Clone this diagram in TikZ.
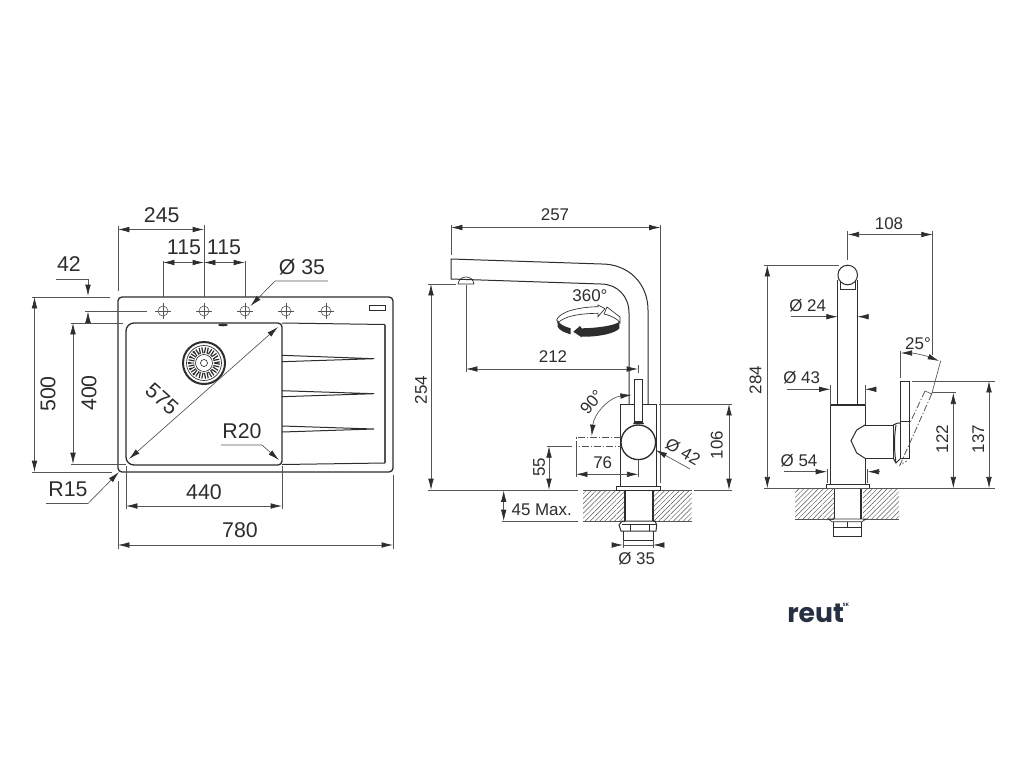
\documentclass[tikz,border=0pt]{standalone}
\usepackage{fontspec}
\setmainfont{Liberation Sans}
\newfontfamily\logofont{Poppins}[BoldFont={Poppins Bold}]
\usepackage{xcolor}
\usetikzlibrary{arrows.meta,patterns.meta}
\definecolor{inkdark}{RGB}{45,45,45}
\definecolor{dimgray}{RGB}{85,85,85}
\definecolor{logoblue}{RGB}{38,48,66}
\tikzset{
  outline/.style={draw=inkdark,line width=0.75pt},
  thinline/.style={draw=inkdark,line width=0.5pt},
  holeline/.style={draw=dimgray,line width=0.45pt},
  extline/.style={draw=dimgray,line width=0.5pt},
  dimline/.style={draw=dimgray,line width=0.5pt,>={Latex[length=8.5pt,width=4.2pt,color=inkdark]}},
  ghostline/.style={draw=dimgray,line width=0.6pt,dash pattern=on 5pt off 1.5pt on 1pt off 1.5pt},
  dimtext/.style={font=\fontsize{16}{18}\selectfont,text=inkdark,inner sep=0pt},
  smalltext/.style={font=\fontsize{12.7}{15}\selectfont,text=inkdark,inner sep=0pt},
  worktop/.style={pattern={Lines[angle=45,distance=2.6pt,line width=0.35pt]},pattern color=dimgray,draw=none}
}
\begin{document}
\begin{tikzpicture}[x=0.75pt,y=0.75pt,yscale=-1,xscale=1]
\useasboundingbox (0,0) rectangle (1024,768);

%Shape: Sink top
\draw [outline,line width=1pt,rounded corners=3pt] (118,297) rectangle (393,472);
%Shape: Bowl
\draw [outline,line width=1pt,rounded corners=3pt] (126,323) -- (282,323) -- (282,465) [rounded corners=6pt] -- (126,465) -- cycle;
%Shape: Drainboard
\draw [outline] (282,323) -- (385,324.5);
\draw [draw=dimgray,line width=1.2pt] (385,324.5) -- (385,463);
\draw [outline] (385,463) -- (282,464.5);
%Shape: Label plate
\draw [thinline] (369,305) rectangle (385,310);
%Shape: Overflow
\fill [inkdark] (223,325) circle [x radius=5, y radius=1.3];

%Shape: Tap holes
\draw [holeline] (163,311) circle [x radius=5, y radius=5];
\draw [holeline] (155,311) -- (171,311) (163,303) -- (163,319);
\draw [holeline] (204,311) circle [x radius=5, y radius=5];
\draw [holeline] (196,311) -- (212,311) (204,303) -- (204,319);
\draw [holeline] (245,311) circle [x radius=5, y radius=5];
\draw [holeline] (237,311) -- (253,311) (245,303) -- (245,319);
\draw [holeline] (286,311) circle [x radius=5, y radius=5];
\draw [holeline] (278,311) -- (294,311) (286,303) -- (286,319);
\draw [holeline] (326,311) circle [x radius=5, y radius=5];
\draw [holeline] (318,311) -- (334,311) (326,303) -- (326,319);

%Shape: Drain
\draw [draw=inkdark,line width=1.5pt] (204,363) circle [x radius=21, y radius=21];
\draw [thinline] (204,363) circle [x radius=17.5, y radius=17.5];
\draw [draw=inkdark,line width=4.5pt,dash pattern=on 0.9pt off 1.1pt] (204,363) circle [x radius=13, y radius=13];
\draw [thinline] (204,363) circle [x radius=8.5, y radius=8.5];
\draw [thinline] (204,363) circle [x radius=3.5, y radius=3.5];

%Shape: Ribs
\draw [outline] (282,355.3) -- (374,358.7) -- (282,361.7);
\draw [outline] (282,390.7) -- (374,393.7) -- (282,396.7);
\draw [outline] (282,426) -- (374,429) -- (282,432);

%Straight Lines: sink dimensions
\draw [extline] (118,226) -- (118,291);
\draw [extline] (204,225) -- (204,297);
\draw [extline] (163,261) -- (163,297);
\draw [extline] (245,261) -- (245,297);
\draw [dimline,<->] (118,229.5) -- (204,229.5);
\draw [dimline,<->] (163,262.5) -- (204,262.5);
\draw [dimline,<->] (204,262.5) -- (245,262.5);
\draw [extline] (32,297) -- (110,297);
\draw [extline] (85,311) -- (147,311);
\draw [extline] (71,323) -- (123,323);
\draw [extline] (32,472) -- (112,472);
\draw [extline] (71,464.5) -- (126,464.5);
\draw [extline] (126,466) -- (126,509);
\draw [extline] (282,466) -- (282,509);
\draw [extline] (118,481) -- (118,549);
\draw [extline] (393,475) -- (393,549);
\draw [dimline,->] (56,279) -- (88,279) -- (88,296);
\draw [dimline,->] (88,323) -- (88,311.5);
\draw [dimline,<->] (34.5,297) -- (34.5,472);
\draw [dimline,<->] (73,323) -- (73,464);
\draw [dimline,<->] (126,506) -- (282,506);
\draw [dimline,<->] (118,545) -- (393,545);
\draw [dimline,<->] (129,459) -- (278,327);
\draw [dimline,->] (46,503.5) -- (88,503.5) -- (119,472);
\draw [dimline,->] (328,281) -- (275,281) -- (250.5,306);
\draw [dimline,->] (221,445) -- (262,445) -- (279,460);

%Shape: Spout
\draw [outline] (648,404) -- (648,310) .. controls (648,283) and (628,264) .. (601.7,264) -- (451,259) -- (451,279) -- (601,284) .. controls (617,284) and (629,296) .. (629,313) -- (629,404);
%Shape: Aerator
\draw [thinline] (458,284) .. controls (459,279) and (462,277) .. (466,277) .. controls (470,277) and (473,279) .. (474,284) -- cycle;

%Shape: Rotation arrow
\draw [thinline,fill=white] (556.7,320) .. controls (559,312) and (578,307) .. (598,306.7) -- (598,305) -- (605,308.5) -- (598,316.7) -- (598,313.3) .. controls (580,313.5) and (564,316) .. (558,323) -- cycle;
\draw [thinline,fill=white] (607,307) -- (620,317) -- (620,323) .. controls (618,319) and (612,316) .. (604,314) -- cycle;
\fill [inkdark] (619.3,321.7) .. controls (616,325) and (600,328) .. (581.7,328.3) -- (580,326) -- (573.3,331.7) -- (581.7,337.3) -- (581.7,336.7) .. controls (600,337) and (616,333) .. (619.3,328.3) -- cycle;
\fill [inkdark] (557.7,320) -- (557.7,326.7) .. controls (559,330) and (564,332.5) .. (570.7,334.3) -- (570.7,328.3) .. controls (564,326.5) and (559,324) .. (557.7,320) -- cycle;

%Shape: Worktop, side view
\path [worktop] (583,490) rectangle (625,521);
\path [worktop] (653,490) rectangle (691.7,521);
\draw [extline] (583,490) -- (625,490);
\draw [extline] (653,490) -- (691.7,490);
\draw [extline] (583,521) -- (625,521);
\draw [extline] (653,521) -- (691.7,521);

%Shape: Tap body, side view
\draw [outline] (620.7,486.7) -- (620.7,404) -- (656,404) -- (656,486.7);
\draw [thinline] (616.7,486.7) rectangle (660.7,490);
\draw [outline,line width=1pt] (625,490) -- (625,521);
\draw [outline,line width=1pt] (653,490) -- (653,521);
\draw [outline] (622,521) -- (619,525) -- (621,531) -- (656,531) -- (656.7,525) -- (655,521) -- cycle;
\draw [thinline] (630.7,524) -- (630.7,531) (649,524) -- (649,531) (622,524) -- (656,524);
\draw [outline] (623,531) -- (623,540) -- (653,540) -- (653,531);
%Shape: Lever
\draw [outline,fill=white] (634,422) -- (634,379.3) -- (642.7,379.3) -- (642.7,422);
\fill [inkdark] (633,424) -- (635,421) -- (642,421) -- (644,424) -- cycle;
\draw [draw=inkdark,line width=1pt,fill=white] (638.3,442.3) circle [x radius=17.3, y radius=17.3];
%Shape: Lever turned
\draw [ghostline] (621,437.7) -- (576,437.7) -- (576,446.3) -- (621,446.3);

%Straight Lines: side view dimensions
\draw [extline] (451,225) -- (451,255);
\draw [extline] (660.5,225) -- (660.5,483);
\draw [dimline,<->] (451,227.5) -- (660.5,227.5);
\draw [extline] (466,285) -- (466,372);
\draw [extline] (638,365) -- (638,373);
\draw [dimline,<->] (466,369) -- (638,369);
\draw [extline] (428,284) -- (456,284);
\draw [extline] (428,490) -- (578,490);
\draw [dimline,<->] (431,284) -- (431,490);
\draw [extline] (502,521) -- (578,521);
\draw [dimline,<->] (503.7,490.5) -- (503.7,521);
\draw [extline] (546.7,446.3) -- (572,446.3);
\draw [dimline,<->] (549,446.3) -- (549,490);
\draw [extline] (576,442) -- (576,477);
\draw [extline] (638.3,460) -- (638.3,477);
\draw [dimline,<->] (576,474.3) -- (638.3,474.3);
\draw [dimline,<->] (631.7,395) .. controls (610,397) and (594,413) .. (591.7,436);
\draw [dimline,<-] (655.7,450) -- (690,469);
\draw [extline] (659,404) -- (732,404);
\draw [extline] (694,490) -- (732,490);
\draw [dimline,<->] (729,404) -- (729,490);
\draw [extline] (623,540) -- (623,548);
\draw [extline] (653,540) -- (653,548);
\draw [dimline,->] (613,545) -- (623,545);
\draw [dimline,->] (663,545) -- (653,545);
\draw [dimline] (623,545) -- (653,545);

%Shape: Worktop, front view
\path [worktop] (795,488.3) rectangle (834,519);
\path [worktop] (863,488.3) rectangle (899,519);
\draw [extline] (795,519) -- (834,519);
\draw [extline] (863,519) -- (899,519);

%Shape: Tap body, front view
\draw [outline] (837.7,405) -- (837.7,280);
\draw [outline] (857.3,405) -- (857.3,280);
\draw [outline,fill=white] (840.7,280) -- (840.7,289) -- (855,289) -- (855,280);
\draw [outline,fill=white] (847.7,275) circle [x radius=9.8, y radius=9.8];
\draw [outline] (830.3,484.3) -- (830.3,405);
\draw [outline,line width=1pt] (830.3,405) -- (865,405);
\draw [outline] (865,405) -- (865,425) -- (893.3,425) -- (893.3,458.3) -- (865,458.3) -- (865,484.3);
\draw [outline] (865,425) -- (856.7,430) -- (851,440.7) -- (856.7,453) -- (865,458.3);
\draw [thinline] (826,484.3) rectangle (869.3,488.3);
\draw [outline,line width=1pt] (834.5,488.3) -- (834.5,519);
\draw [outline,line width=1pt] (861,488.3) -- (861,519);
\draw [thinline] (828.3,519) -- (866,519) -- (862,521.7) -- (832,521.7) -- cycle;
\draw [outline] (833.3,521.7) -- (833.3,536.7) -- (861.7,536.7) -- (861.7,521.7);
\draw [thinline] (833.3,527.3) -- (861.7,527.3) (847.5,521.7) -- (847.5,527.3);
%Shape: Lever, front view
\draw [outline] (893.3,425) .. controls (896,423) and (898,423) .. (900.7,423);
\draw [outline] (893.3,458.3) -- (896,463) -- (900.7,458.3);
\draw [outline] (900.7,381) rectangle (909,458.3);
\draw [outline] (900.7,421.7) -- (909,421.7);
\draw [outline] (896,425) .. controls (894,437) and (894,450) .. (896,463);
%Shape: Lever turned
\draw [ghostline] (931.7,394) -- (900,465) -- (906.7,461);
\draw [ghostline] (925,391) -- (909,425);
\draw [extline] (940.7,360.7) -- (931.7,394) -- (925,391);

%Straight Lines: front view dimensions
\draw [extline] (847.7,231) -- (847.7,260);
\draw [extline] (932.7,231) -- (932.7,355);
\draw [dimline,<->] (847.7,234.5) -- (932.7,234.5);
\draw [extline] (764,265) -- (839,265);
\draw [extline] (764,488.3) -- (995,488.3);
\draw [dimline,<->] (767.3,265) -- (767.3,488.3);
\draw [dimline,->] (790.7,316.7) -- (837.7,316.7);
\draw [dimline,->] (867.7,316.7) -- (857.3,316.7);
\draw [extline] (830.7,385) -- (830.7,405);
\draw [extline] (865,385) -- (865,405);
\draw [dimline,->] (786.7,389.3) -- (830.5,389.3);
\draw [dimline,->] (875,389.3) -- (865,389.3);
\draw [extline] (827,469) -- (827,483);
\draw [extline] (867.7,469) -- (867.7,483);
\draw [dimline,->] (784,471.7) -- (827,471.7);
\draw [dimline,->] (879.3,471.7) -- (867.7,471.7);
\draw [extline] (900.7,351) -- (900.7,378);
\draw [dimline,<->] (900.7,353) .. controls (914,353) and (927,356) .. (939,361);
\draw [extline] (931.7,392.7) -- (956,392.7);
\draw [dimline,<->] (953.3,392.7) -- (953.3,488.3);
\draw [extline] (912,381) -- (995,381);
\draw [dimline,<->] (989,381) -- (989,488.3);

% Text Node
\node [dimtext] (dimA) at (161.7,215) {245};
\node [dimtext] (dimB) at (184,247) {115};
\node [dimtext] (dimC) at (224,247) {115};
\node [dimtext] (dimD) at (69,264) {42};
\node [dimtext] (dimE) at (302,267) {Ø 35};
\node [dimtext,rotate=90] (dimF) at (48,394) {500};
\node [dimtext,rotate=90] (dimG) at (89,393) {400};
\node [dimtext,rotate=-41.5] (dimH) at (162,399) {575};
\node [dimtext] (dimI) at (242,431.5) {R20};
\node [dimtext] (dimJ) at (68,489) {R15};
\node [dimtext] (dimK) at (204,492) {440};
\node [dimtext] (dimL) at (240,530) {780};
\node [smalltext] (sideA) at (555,215) {257};
\node [smalltext] (sideB) at (590,296) {360°};
\node [smalltext] (sideC) at (553,357) {212};
\node [smalltext,rotate=90] (sideD) at (421,390) {254};
\node [smalltext,rotate=50] (sideE) at (591.7,402) {90°};
\node [smalltext,rotate=-30] (sideF) at (683,451.7) {Ø 42};
\node [smalltext,rotate=90] (sideG) at (716.7,445) {106};
\node [smalltext,rotate=90] (sideH) at (539,467) {55};
\node [smalltext] (sideI) at (602.7,463) {76};
\node [smalltext] (sideJ) at (541.7,510) {45 Max.};
\node [smalltext] (sideK) at (636.7,559) {Ø 35};
\node [smalltext] (frontA) at (889,224) {108};
\node [smalltext,rotate=90] (frontB) at (755.5,380) {284};
\node [smalltext] (frontC) at (807.7,306) {Ø 24};
\node [smalltext] (frontD) at (801.7,378) {Ø 43};
\node [smalltext] (frontE) at (799,461) {Ø 54};
\node [smalltext] (frontF) at (918,344) {25°};
\node [smalltext,rotate=90] (frontG) at (942.3,439) {122};
\node [smalltext,rotate=90] (frontH) at (978.3,439) {137};
\node [inner sep=0pt,anchor=base west,text=logoblue,font=\logofont\bfseries\fontsize{20}{22}\selectfont] (logoA) at (787,622) {reut};
\node [inner sep=0pt,text=logoblue,font=\logofont\bfseries\fontsize{3.5}{4}\selectfont] (logoB) at (846,605) {SK};
\end{tikzpicture}
\end{document}
